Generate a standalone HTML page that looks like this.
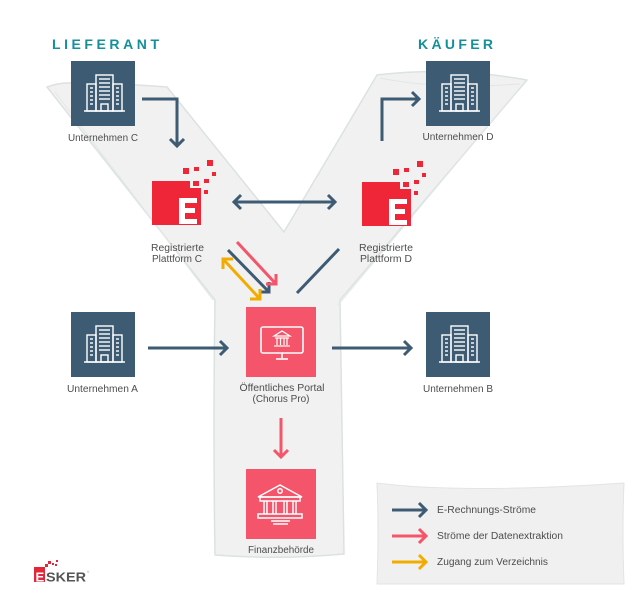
<!DOCTYPE html>
<html>
<head>
<meta charset="utf-8">
<style>
  html,body{margin:0;padding:0;background:#fff;}
  svg{display:block;}
  .lbl{font-family:"Liberation Sans",sans-serif;font-size:10px;fill:#4d4d4d;}
  .hd{font-family:"Liberation Sans",sans-serif;font-size:14px;font-weight:bold;fill:#13909a;}
</style>
</head>
<body>
<svg width="639" height="600" viewBox="0 0 639 600" xmlns="http://www.w3.org/2000/svg">
  <defs>
    <g id="bld">
      <rect x="0" y="0" width="64" height="65" fill="#3e5b74"/>
      <g fill="none" stroke="#fff" stroke-width="1.4">
        <rect x="25" y="14" width="17" height="36"/>
        <rect x="16" y="23" width="9" height="27"/>
        <rect x="42" y="23" width="9" height="27"/>
        <line x1="13" y1="50" x2="54" y2="50"/>
        <rect x="30" y="43" width="7" height="7"/>
        <line x1="28" y1="18" x2="39" y2="18"/>
        <line x1="28" y1="22" x2="39" y2="22"/>
        <line x1="28" y1="26" x2="39" y2="26"/>
        <line x1="28" y1="30" x2="39" y2="30"/>
        <line x1="28" y1="34" x2="39" y2="34"/>
        <line x1="28" y1="38" x2="39" y2="38"/>
        <line x1="19" y1="27" x2="22" y2="27"/>
        <line x1="19" y1="31" x2="22" y2="31"/>
        <line x1="19" y1="35" x2="22" y2="35"/>
        <line x1="19" y1="39" x2="22" y2="39"/>
        <line x1="19" y1="43" x2="22" y2="43"/>
        <line x1="45" y1="27" x2="48" y2="27"/>
        <line x1="45" y1="31" x2="48" y2="31"/>
        <line x1="45" y1="35" x2="48" y2="35"/>
        <line x1="45" y1="39" x2="48" y2="39"/>
        <line x1="45" y1="43" x2="48" y2="43"/>
      </g>
    </g>
    <g id="elogo">
      <rect x="152" y="181" width="38" height="44" fill="#ef2638"/>
      <rect x="190" y="188" width="11" height="37" fill="#ef2638"/>
      <rect x="193" y="181" width="6" height="5" fill="#ef2638"/>
      <rect x="183" y="168" width="6" height="6" fill="#ef2638"/>
      <rect x="194" y="167" width="5" height="4" fill="#ef2638"/>
      <rect x="207" y="160" width="6" height="6" fill="#ef2638"/>
      <rect x="212" y="172" width="4" height="4" fill="#ef2638"/>
      <rect x="204" y="179" width="5" height="4" fill="#ef2638"/>
      <rect x="204" y="190" width="4" height="4" fill="#ef2638"/>
      <path d="M179,198 H197 V203 H185 V208 H195 V213 H185 V219 H197 V224 H179 Z" fill="#fff"/>
    </g>
  </defs>

  <!-- Y shape -->
  <path d="M47,87 Q60,82 75,83 L137,85 Q155,86 167,87 L284,232 L377,75 Q450,66 527,80 L340,300 Q342,430 344,554 Q280,560 215,555 Q213,430 215,300 Z"
        fill="#f1f1f1" stroke="#dbe2e2" stroke-width="1.5" stroke-linejoin="round"/>
  <path d="M55,92 L213,300" fill="none" stroke="#e2e7e7" stroke-width="1"/>
  <path d="M380,78 Q440,90 520,84" fill="none" stroke="#e0e6e6" stroke-width="1"/>
  <path d="M518,90 L338,305" fill="none" stroke="#e2e7e7" stroke-width="1"/>

  <!-- Legend box -->
  <path d="M377,483 Q460,494 624,483 Q622,530 624,584 L377,584 Q379,530 377,483 Z" fill="#f0f0f0" stroke="#e0e5e5" stroke-width="1"/>

  <!-- Headings -->
  <text class="hd" x="52" y="49" textLength="107" lengthAdjust="spacing">LIEFERANT</text>
  <text class="hd" x="418" y="49" textLength="75" lengthAdjust="spacing">KÄUFER</text>

  <!-- Buildings -->
  <use href="#bld" transform="translate(71,61)"/>
  <use href="#bld" transform="translate(426,61)"/>
  <use href="#bld" transform="translate(71,312)"/>
  <use href="#bld" transform="translate(426,312)"/>

  <!-- E logos -->
  <use href="#elogo"/>
  <use href="#elogo" transform="translate(210,1)"/>

  <!-- Portal -->
  <rect x="246" y="307" width="70" height="70" fill="#f4556a"/>
  <g fill="none" stroke="#fff" stroke-width="1.6">
    <rect x="261" y="327" width="42" height="26" rx="2"/>
    <line x1="282" y1="353" x2="282" y2="358"/>
    <line x1="276" y1="359" x2="288" y2="359"/>
    <path d="M274,336 L282,331 L290,336 Z" stroke-width="1.2"/>
    <line x1="275" y1="338" x2="289" y2="338" stroke-width="1.2"/>
    <line x1="277" y1="338" x2="277" y2="345" stroke-width="1.2"/>
    <line x1="280.5" y1="338" x2="280.5" y2="345" stroke-width="1.2"/>
    <line x1="284" y1="338" x2="284" y2="345" stroke-width="1.2"/>
    <line x1="287" y1="338" x2="287" y2="345" stroke-width="1.2"/>
    <line x1="274" y1="346" x2="290" y2="346" stroke-width="1.2"/>
  </g>

  <!-- Finanzbehoerde -->
  <rect x="246" y="469" width="70" height="70" fill="#f4556a"/>
  <g fill="none" stroke="#fff" stroke-width="1.5">
    <path d="M258,497 L280,485 L302,497 Z"/>
    <circle cx="280" cy="491" r="2.2"/>
    <rect x="260" y="497" width="40" height="4"/>
    <line x1="264" y1="501" x2="264" y2="514"/>
    <line x1="267" y1="501" x2="267" y2="514"/>
    <line x1="273" y1="501" x2="273" y2="514"/>
    <line x1="276" y1="501" x2="276" y2="514"/>
    <line x1="284" y1="501" x2="284" y2="514"/>
    <line x1="287" y1="501" x2="287" y2="514"/>
    <line x1="293" y1="501" x2="293" y2="514"/>
    <line x1="296" y1="501" x2="296" y2="514"/>
    <rect x="258" y="514" width="44" height="4"/>
    <line x1="271" y1="521" x2="290" y2="521"/>
    <line x1="273" y1="524" x2="288" y2="524"/>
  </g>

  <!-- Navy arrows -->
  <g fill="none" stroke="#3e5b74" stroke-width="3" stroke-linejoin="miter" stroke-linecap="butt">
    <path d="M142,99 H177 V146"/>
    <path d="M170,139 L177,146 L184,139"/>
    <path d="M382,141 V99 H419"/>
    <path d="M412,92 L419,99 L412,106"/>
    <path d="M234,202 H335"/>
    <path d="M241,195 L234,202 L241,209"/>
    <path d="M328,195 L335,202 L328,209"/>
    <path d="M148,348 H227"/>
    <path d="M220,341 L227,348 L220,355"/>
    <path d="M332,348 H411"/>
    <path d="M404,341 L411,348 L404,355"/>
    <path d="M228,250 L269,292"/>
    <path d="M259,292 L269,292 L269,282"/>
    <path d="M339,249 L297,293"/>
    <path d="M392,510 H426"/>
    <path d="M419,503 L426,510 L419,517"/>
  </g>

  <!-- Pink arrows -->
  <g fill="none" stroke="#f4556a" stroke-width="3">
    <path d="M281,418 V457"/>
    <path d="M274,450 L281,457 L288,450"/>
    <path d="M237,242 L276,284"/>
    <path d="M266,284 L276,284 L276,274"/>
    <path d="M392,536 H426"/>
    <path d="M419,529 L426,536 L419,543"/>
  </g>

  <!-- Yellow arrows -->
  <g fill="none" stroke="#f2ac00" stroke-width="3">
    <path d="M223,259 L260,299"/>
    <path d="M223,269 L223,259 L233,259"/>
    <path d="M250,299 L260,299 L260,289"/>
    <path d="M392,562 H426"/>
    <path d="M419,555 L426,562 L419,569"/>
  </g>

  <!-- Labels -->
  <g class="lbl" text-anchor="middle">
    <text x="103" y="141" textLength="70" lengthAdjust="spacingAndGlyphs">Unternehmen C</text>
    <text x="458" y="140" textLength="71" lengthAdjust="spacingAndGlyphs">Unternehmen D</text>
    <text x="177.5" y="251" textLength="53" lengthAdjust="spacingAndGlyphs">Registrierte</text>
    <text x="177" y="262" textLength="50" lengthAdjust="spacingAndGlyphs">Plattform C</text>
    <text x="386" y="251" textLength="54" lengthAdjust="spacingAndGlyphs">Registrierte</text>
    <text x="386" y="262" textLength="52" lengthAdjust="spacingAndGlyphs">Plattform D</text>
    <text x="102.5" y="392" textLength="71" lengthAdjust="spacingAndGlyphs">Unternehmen A</text>
    <text x="458" y="392" textLength="70" lengthAdjust="spacingAndGlyphs">Unternehmen B</text>
    <text x="282" y="391" textLength="85" lengthAdjust="spacingAndGlyphs">Öffentliches Portal</text>
    <text x="281" y="402" textLength="57" lengthAdjust="spacingAndGlyphs">(Chorus Pro)</text>
    <text x="281" y="553" textLength="66" lengthAdjust="spacingAndGlyphs">Finanzbehörde</text>
  </g>
  <g class="lbl">
    <text x="437" y="513" textLength="99" lengthAdjust="spacingAndGlyphs">E-Rechnungs-Ströme</text>
    <text x="437" y="539" textLength="126" lengthAdjust="spacingAndGlyphs">Ströme der Datenextraktion</text>
    <text x="437" y="565" textLength="111" lengthAdjust="spacingAndGlyphs">Zugang zum Verzeichnis</text>
  </g>

  <!-- Esker logo -->
  <rect x="34" y="567" width="11" height="15" fill="#e3263a"/>
  <rect x="45" y="564" width="3" height="3" fill="#e3263a"/>
  <rect x="48" y="561" width="3" height="3" fill="#e3263a"/>
  <rect x="52" y="563" width="2" height="2" fill="#e3263a"/>
  <rect x="56" y="560" width="2" height="2" fill="#e3263a"/>
  <rect x="55" y="564" width="2" height="2" fill="#e3263a"/>
  <text x="35.5" y="581.5" font-family="Liberation Sans, sans-serif" font-size="13" font-weight="bold" fill="#fff">E</text>
  <text x="46" y="581.5" font-family="Liberation Sans, sans-serif" font-size="13" font-weight="bold" fill="#555" textLength="40" lengthAdjust="spacingAndGlyphs">SKER</text>
  <text x="87" y="573" font-family="Liberation Sans, sans-serif" font-size="3" fill="#888">®</text>
</svg>
</body>
</html>
